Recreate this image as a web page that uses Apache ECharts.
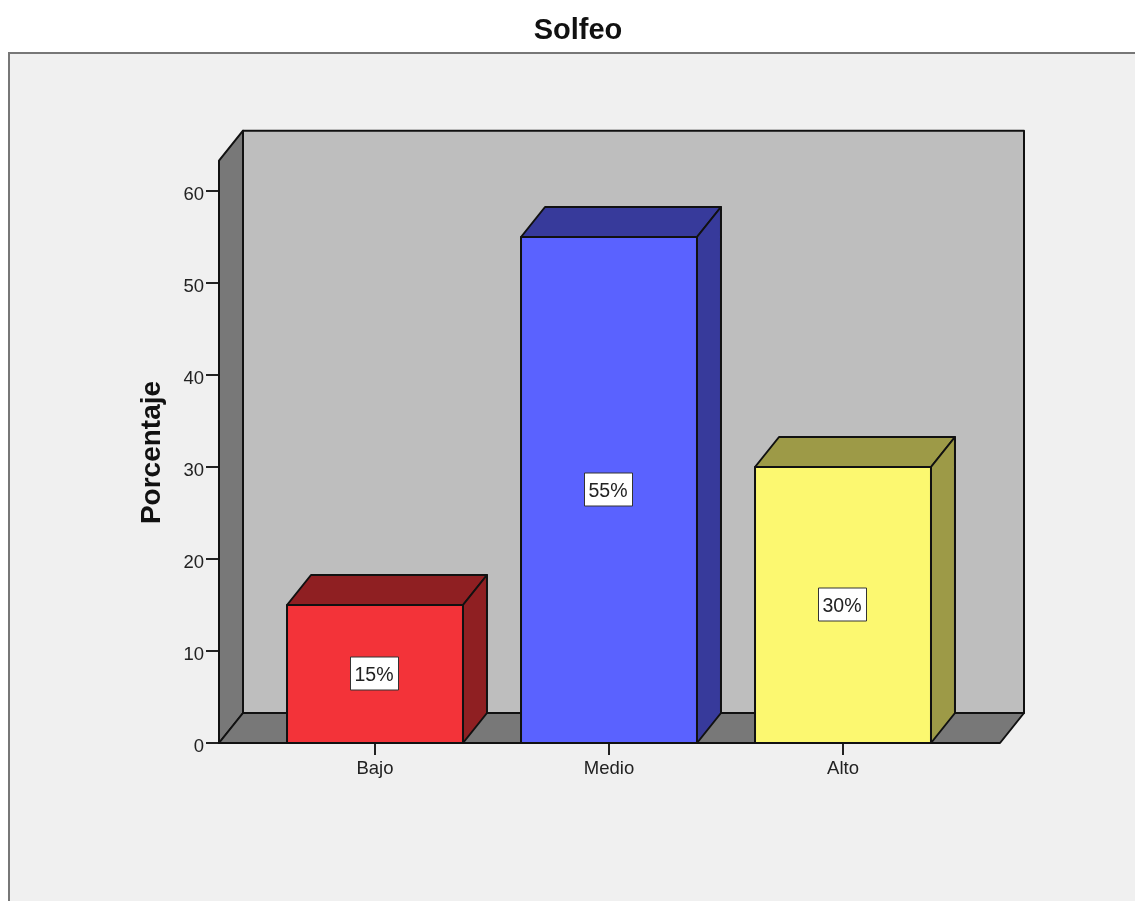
<!DOCTYPE html>
<html><head><meta charset="utf-8">
<style>html,body{margin:0;padding:0;background:#fff}#c{width:1135px;height:901px}</style>
<script src="https://cdn.jsdelivr.net/npm/echarts@6/dist/echarts.min.js"></script>
</head><body><div id="c"></div>
<script>
const categories = ['Bajo', 'Medio', 'Alto'];
const values = [15, 55, 30];
const yTicks = [0, 60, 10];
const wallTopValue = 63.3;
const frontColors = ['#F33339', '#5A62FF', '#FCF870'];
const sideColors = ['#8F1F22', '#373A9B', '#9D9A47'];

const DX = 24, DY = -30, LINE = '#111', EDGE = 2;
const BOX_W = 48, BOX_H = 33;
const FONT = '"Liberation Sans", Arial, sans-serif';
const chart = echarts.init(document.getElementById('c'), null, {renderer: 'canvas'});
const poly = (points, fill) => ({type: 'polygon', shape: {points}, style: {fill, stroke: LINE, lineWidth: EDGE, lineJoin: 'round'}});

function renderWall(params, api) {
  const band = api.size([1, 0])[0];
  const x0 = api.coord([0, 0])[0] - band / 2 - 39;
  const x1 = api.coord([2, 0])[0] + band / 2 + 40;
  const y0 = api.coord([0, 0])[1];
  const yT = api.coord([0, api.value(0)])[1];
  return {type: 'group', children: [
    poly([[x0 + DX, y0 + DY], [x1 + DX, y0 + DY], [x1 + DX, yT + DY], [x0 + DX, yT + DY]], '#BEBEBE'),
    poly([[x0, y0], [x0 + DX, y0 + DY], [x0 + DX, yT + DY], [x0, yT]], '#787878'),
    poly([[x0, y0], [x1, y0], [x1 + DX, y0 + DY], [x0 + DX, y0 + DY]], '#787878')
  ]};
}
function renderBar(params, api) {
  const i = api.value(0), v = api.value(1);
  const c = api.coord([i, 0]);
  const top = api.coord([i, v])[1];
  const mid = api.coord([i, v / 2])[1];
  const w = api.size([1, 0])[0] * 0.752;
  const l = c[0] - w / 2, r = c[0] + w / 2, b = c[1];
  return {type: 'group', children: [
    poly([[l, top], [r, top], [r + DX, top + DY], [l + DX, top + DY]], sideColors[i]),
    poly([[r, top], [r + DX, top + DY], [r + DX, b + DY], [r, b]], sideColors[i]),
    poly([[l, b], [l, top], [r, top], [r, b]], frontColors[i]),
    {type: 'rect', shape: {x: c[0] - BOX_W / 2 - 0.5, y: mid - BOX_H / 2 - 0.5, width: BOX_W, height: BOX_H},
      style: {fill: '#fff', stroke: '#333', lineWidth: 1}},
    {type: 'text', x: c[0] - 1, y: mid + 1.5, style: {
      text: v + '%', fill: '#222', font: '19.5px ' + FONT, align: 'center', verticalAlign: 'middle'
    }}
  ]};
}

chart.setOption({
  animation: false,
  backgroundColor: '#fff',
  title: {text: 'Solfeo', left: 573, top: 11, textAlign: 'center',
    textStyle: {fontFamily: FONT, fontWeight: 'bold', fontSize: 29, color: '#111'}},
  graphic: [{type: 'rect', z: -10, silent: true, shape: {x: 9, y: 53, width: 1140, height: 860},
    style: {fill: '#F0F0F0', stroke: '#777', lineWidth: 2}}],
  grid: {left: 258, top: 191, width: 702, height: 552},
  xAxis: {type: 'category', data: categories,
    axisLine: {show: false},
    axisTick: {show: true, alignWithLabel: true, length: 12, lineStyle: {color: '#222', width: 2}},
    axisLabel: {color: '#222', fontFamily: FONT, fontSize: 18.5, margin: 16},
    splitLine: {show: false}},
  yAxis: {type: 'value', min: yTicks[0], max: yTicks[1], interval: yTicks[2], offset: 39,
    name: 'Porcentaje', nameLocation: 'middle', nameGap: 53, nameRotate: 90,
    nameTextStyle: {fontFamily: FONT, fontWeight: 'bold', fontSize: 28, color: '#111', padding: [0, 0, 0, 29]},
    axisLine: {show: true, lineStyle: {color: '#222', width: 2}},
    axisTick: {show: true, length: 13, lineStyle: {color: '#222', width: 2}},
    axisLabel: {color: '#222', fontFamily: FONT, fontSize: 18.5, margin: 15, verticalAlign: 'top', lineHeight: 7},
    splitLine: {show: false}},
  series: [
    {type: 'custom', z: 1, silent: true, renderItem: renderWall, data: [[wallTopValue]], encode: {y: 0}},
    {type: 'custom', z: 2, silent: true, renderItem: renderBar, data: values.map((v, i) => [i, v]), encode: {x: 0, y: 1}}
  ]
});
</script></body></html>
